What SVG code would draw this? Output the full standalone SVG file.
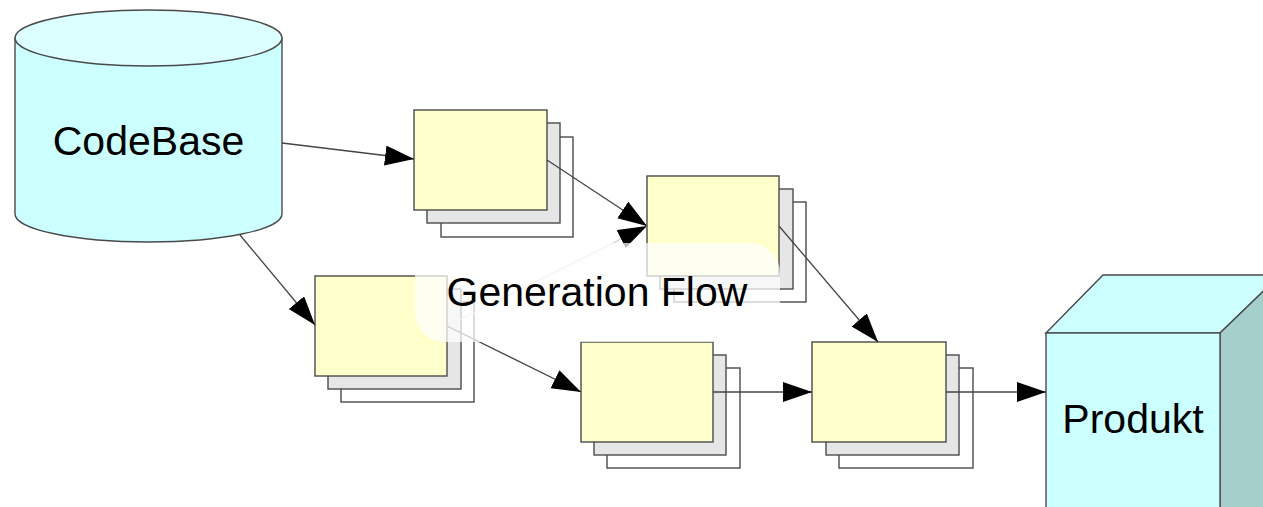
<svg xmlns="http://www.w3.org/2000/svg" width="1263" height="507" viewBox="0 0 1263 507">
  <style>
    .outline { stroke: #4a4a4a; stroke-width: 1.4; }
    .front { fill: #ffffcc; }
    .mid { fill: #e6e6e6; }
    .back { fill: #ffffff; }
    .cyan { fill: #ccffff; }
    .cyanTop { fill: #dcffff; }
    .shade { fill: #a5cfcb; }
    .label { font-family: "Liberation Sans", Arial, sans-serif; font-size: 41px; fill: #000; }
    .link { fill: none; stroke: #444; stroke-width: 1.3; }
    .faint { fill: none; stroke: #d2d2d2; stroke-width: 1.3; }
  </style>
  <defs>
    <marker id="arrow" markerUnits="userSpaceOnUse" markerWidth="30" markerHeight="22" refX="29" refY="10" orient="auto">
      <path d="M0,0 L29,10 L0,20 Z" fill="#000"/>
    </marker>
  </defs>

  <rect width="1263" height="507" fill="#fff"/>

  <!-- CodeBase data store -->
  <g id="codebase">
    <path class="cyan outline" d="M15,38 L15,214 A133.5,28 0 0 0 282,214 L282,38 Z"/>
    <ellipse class="cyanTop outline" cx="148.5" cy="38" rx="133.5" ry="28"/>
    <text class="label" x="148.5" y="155" text-anchor="middle">CodeBase</text>
  </g>

  <!-- artefact stacks: back sheet, middle sheet, front sheet -->
  <g id="stackA">
    <rect class="back outline" x="441" y="137" width="132" height="100"/>
    <rect class="mid outline" x="427" y="123" width="133" height="100"/>
    <rect class="front outline" x="414" y="110" width="133" height="100"/>
  </g>
  <g id="stackB">
    <rect class="back outline" x="674" y="202" width="132" height="100"/>
    <rect class="mid outline" x="660" y="189" width="133" height="100"/>
    <rect class="front outline" x="647" y="176" width="132" height="100"/>
  </g>
  <g id="stackC">
    <rect class="back outline" x="341" y="302" width="133" height="100"/>
    <rect class="mid outline" x="328" y="289" width="133" height="100"/>
    <rect class="front outline" x="315" y="276" width="132" height="100"/>
  </g>
  <g id="stackD">
    <rect class="back outline" x="607" y="368" width="133" height="100"/>
    <rect class="mid outline" x="594" y="355" width="132" height="100"/>
    <rect class="front outline" x="581" y="342" width="132" height="100"/>
  </g>
  <g id="stackE">
    <rect class="back outline" x="839" y="368" width="134" height="100"/>
    <rect class="mid outline" x="826" y="355" width="133" height="100"/>
    <rect class="front outline" x="812" y="342" width="134" height="100"/>
  </g>

  <!-- Produkt box -->
  <g id="produkt">
    <polygon class="cyan outline" points="1046,333 1103,275 1280,275 1220,333"/>
    <polygon class="shade outline" points="1220,333 1280,275 1280,520 1220,520"/>
    <rect class="cyan outline" x="1046" y="333" width="174" height="190"/>
    <text class="label" x="1133" y="433" text-anchor="middle">Produkt</text>
  </g>

  <!-- connectors -->
  <g id="connectors">
    <line class="link" x1="282" y1="143" x2="414" y2="159" marker-end="url(#arrow)"/>
    <line class="link" x1="240" y1="235" x2="315" y2="325" marker-end="url(#arrow)"/>
    <line class="link" x1="547" y1="160" x2="647" y2="226" marker-end="url(#arrow)"/>
    <line class="faint" x1="447" y1="326" x2="647" y2="226" marker-end="url(#arrow)"/>
    <line class="link" x1="447" y1="326" x2="581" y2="392" marker-end="url(#arrow)"/>
    <line class="link" x1="779" y1="226" x2="878" y2="342" marker-end="url(#arrow)"/>
    <line class="link" x1="713" y1="392" x2="812" y2="392" marker-end="url(#arrow)"/>
    <line class="link" x1="946" y1="392" x2="1046" y2="392" marker-end="url(#arrow)"/>
  </g>

  <!-- flow title on a translucent plate -->
  <g id="flowTitle">
    <path d="M415,243 L750,243 A30,30 0 0 1 780,273 L780,342 L445,342 A30,30 0 0 1 415,312 Z" fill="#fff" fill-opacity="0.72"/>
    <text class="label" x="597" y="306" text-anchor="middle">Generation Flow</text>
  </g>
</svg>
